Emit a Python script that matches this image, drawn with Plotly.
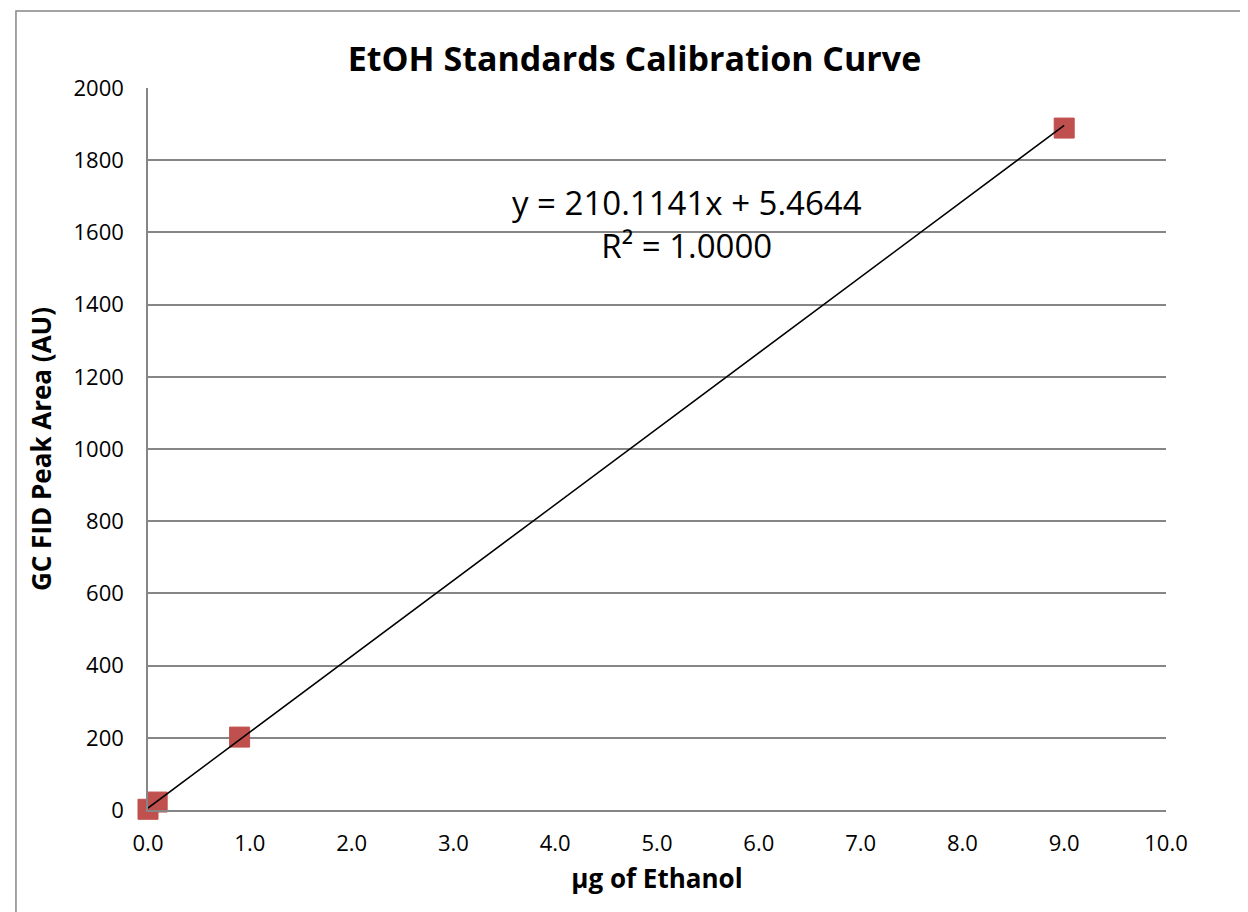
import plotly.graph_objects as go

x_vals = [0.0, 0.09, 0.9, 9.0]
y_vals = [2, 22, 202, 1889]
slope = 210.1141
intercept = 5.4644
trend_x = [0.0, 9.0]
trend_y = [slope * v + intercept for v in trend_x]
x_ticks = [0, 1, 2, 3, 4, 5, 6, 7, 8, 9, 10]
x_tick_labels = ["0.0", "1.0", "2.0", "3.0", "4.0", "5.0", "6.0", "7.0", "8.0", "9.0", "10.0"]
y_ticks = [0, 200, 400, 600, 800, 1000, 1200, 1400, 1600, 1800, 2000]

FONT = "Open Sans"

fig = go.Figure()
fig.add_trace(go.Scatter(
    x=x_vals, y=y_vals, mode="markers",
    marker=dict(symbol="square", size=20, color="#C0504D",
                line=dict(color="#C0504D", width=1)),
    showlegend=False, cliponaxis=False))
fig.add_trace(go.Scatter(
    x=trend_x, y=trend_y, mode="lines",
    line=dict(color="black", width=1.5), showlegend=False, cliponaxis=False))

fig.update_layout(
    width=1248, height=912,
    margin=dict(l=140, r=90, t=80, b=110),
    paper_bgcolor="white", plot_bgcolor="white",
    font=dict(family=FONT, color="black"),
    title=dict(text="<b>EtOH Standards Calibration Curve</b>",
               font=dict(family=FONT, size=34, color="black"),
               x=0.502, xanchor="center", y=0.944, yanchor="middle"),
    xaxis=dict(range=[0, 10], tickvals=x_ticks, ticktext=x_tick_labels,
               showgrid=False, zeroline=False, showline=True,
               linecolor="#868686", linewidth=1.5, ticks="",
               ticklabelstandoff=13,
               tickfont=dict(size=22, family=FONT),
               title=dict(text="<b>µg of Ethanol</b>", font=dict(size=26, family=FONT),
                          standoff=14)),
    yaxis=dict(range=[0, 2000], tickvals=y_ticks,
               showgrid=True, gridcolor="#868686", gridwidth=1.5,
               zeroline=False, showline=True,
               linecolor="#868686", linewidth=1.5, ticks="",
               ticklabelstandoff=18,
               tickfont=dict(size=22, family=FONT),
               title=dict(text="<b>GC FID Peak Area (AU)</b>", font=dict(size=26, family=FONT),
                          standoff=14)),
    annotations=[
        dict(text="y = 210.1141x + 5.4644<br>R² = 1.0000", x=0.529, y=0.8116,
             xref="paper", yref="paper", xanchor="center", yanchor="middle",
             showarrow=False, align="center",
             font=dict(size=33, family=FONT, color="black"))
    ],
    shapes=[
        dict(type="rect", xref="paper", yref="paper",
             x0=-0.1297, x1=1.1, y0=-0.16, y1=1.1066,
             line=dict(color="#868686", width=1.5), layer="below")
    ],
)

fig.write_html("out.html")
